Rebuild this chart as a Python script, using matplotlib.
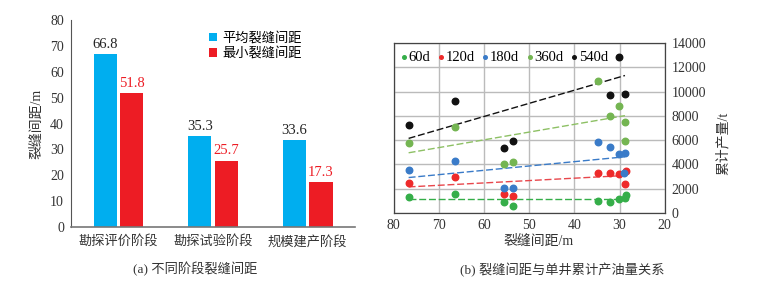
import matplotlib
matplotlib.use("Agg")
import matplotlib.pyplot as plt
import numpy as np

plt.rcParams['font.family'] = ['Liberation Serif', 'Noto Sans CJK SC', 'DejaVu Sans']
plt.rcParams['axes.unicode_minus'] = False

# ---------------- data: panel (a) ----------------
stages = ['勘探评价阶段', '勘探试验阶段', '规模建产阶段']
avg_spacing = [66.8, 35.3, 33.6]
min_spacing = [51.8, 25.7, 17.3]
series_a = ['平均裂缝间距', '最小裂缝间距']

# ---------------- data: panel (b) ----------------
x_60 = [76.7, 66.4, 55.5, 53.6, 34.8, 32.0, 30.1, 28.8, 28.6]
y_60 = [1295, 1543, 882, 606, 964, 909, 1185, 1212, 1515]
x_120 = [76.7, 66.4, 55.5, 53.6, 34.8, 32.0, 30.1, 28.6, 28.8]
y_120 = [2480, 2948, 1598, 1378, 3279, 3334, 3223, 3471, 2397]
x_180 = [76.7, 66.4, 55.5, 53.6, 34.8, 32.0, 30.1, 28.8, 28.9]
y_180 = [3526, 4298, 2094, 2094, 5840, 5427, 4849, 4959, 3334]
x_360 = [76.7, 66.4, 55.5, 53.6, 34.8, 32.0, 30.1, 28.8, 28.8]
y_360 = [5730, 7108, 4022, 4215, 10882, 8017, 8789, 7494, 5896]
x_540 = [76.7, 66.4, 55.5, 53.6, 32.0, 30.1, 28.8]
y_540 = [7246, 9230, 5372, 5896, 9753, 12840, 9808]
series_b = ['60d', '120d', '180d', '360d', '540d']
# trend lines: start/end x and y values
trend_x = [76.7, 28.8]
trend_60 = [1185, 1185]
trend_120 = [2149, 3086]
trend_180 = [2920, 4628]
trend_360 = [4959, 8017]
trend_540 = [6144, 11323]

# ---------------- figure ----------------
fig = plt.figure(figsize=(7.72, 2.82), dpi=100)

# panel (a)
axa = fig.add_axes([0.092, 0.195, 0.368, 0.734])
blue = '#00AEEF'
red = '#ED1C24'
xc = np.arange(len(stages))
w = 0.245
off = 0.14
axa.bar(xc - off, avg_spacing, w, color=blue, label=series_a[0])
axa.bar(xc + off, min_spacing, w, color=red, label=series_a[1])
for i in range(len(stages)):
    axa.text(xc[i] - off, avg_spacing[i] + 1.2, f'{avg_spacing[i]:.1f}', ha='center', va='bottom',
             fontsize=10.5, color='#222222')
    axa.text(xc[i] + off, min_spacing[i] + 1.2, f'{min_spacing[i]:.1f}', ha='center', va='bottom',
             fontsize=10.5, color=red)
axa.set_xlim(-0.5, 2.5)
axa.set_ylim(0, 80)
axa.set_yticks(np.arange(0, 81, 10))
axa.set_xticks(xc)
axa.set_xticklabels(stages)
axa.tick_params(axis='both', length=0, labelsize=10, colors='#333333')
axa.tick_params(axis='y', pad=5)
axa.tick_params(axis='x', pad=6, labelsize=9.5)
for s in ['top', 'right']:
    axa.spines[s].set_visible(False)
axa.spines['left'].set_color('#555555')
axa.spines['bottom'].set_color('#777777')
axa.spines['bottom'].set_linewidth(1.2)
axa.set_ylabel('裂缝间距/m', fontsize=10, color='#333333', labelpad=5)
axa.legend(loc='upper right', frameon=False, fontsize=9.5, handlelength=0.6, handleheight=0.6,
           handletextpad=0.4, labelspacing=0.2, borderaxespad=0.0, bbox_to_anchor=(0.83, 0.97))
fig.text(0.253, 0.046, '(a) 不同阶段裂缝间距', ha='center', va='center', fontsize=9.5, color='#333333')

# panel (b)
axb = fig.add_axes([0.510, 0.2447, 0.351, 0.6028])
c60 = '#35AE49'
c120 = '#EE2A2A'
c180 = '#3A7BC8'
c360 = '#74B552'
c540 = '#111111'
ms = 22
axb.grid(True, color='#BBBBBB', linewidth=1.0)
axb.set_axisbelow(True)
axb.plot(trend_x, trend_60, ls='--', color=c60, lw=1.0, dashes=(5, 2))
axb.plot(trend_x, trend_120, ls='--', color='#E8474C', lw=1.0, dashes=(5, 2))
axb.plot(trend_x, trend_180, ls='--', color=c180, lw=1.0, dashes=(5, 2))
axb.plot(trend_x, trend_360, ls='--', color='#8DC064', lw=1.0, dashes=(5, 2))
axb.plot(trend_x, trend_540, ls='--', color=c540, lw=1.0, dashes=(5, 2))
axb.scatter(x_60, y_60, s=ms, color=c60, label=series_b[0], zorder=3)
axb.scatter(x_120, y_120, s=ms, color=c120, label=series_b[1], zorder=3)
axb.scatter(x_180, y_180, s=ms, color=c180, label=series_b[2], zorder=3)
axb.scatter(x_360, y_360, s=ms, color=c360, label=series_b[3], zorder=3)
axb.scatter(x_540, y_540, s=ms, color=c540, label=series_b[4], zorder=3)
axb.set_xlim(80, 20)
axb.set_ylim(0, 14000)
axb.set_xticks(np.arange(80, 19, -10))
axb.set_yticks(np.arange(0, 14001, 2000))
axb.yaxis.tick_right()
axb.yaxis.set_label_position('right')
axb.tick_params(axis='both', length=0, labelsize=10, colors='#333333')
axb.tick_params(axis='x', pad=4)
axb.tick_params(axis='y', pad=5)
for s in axb.spines.values():
    s.set_color('#444444')
    s.set_linewidth(0.9)
axb.legend(loc='upper left', ncol=5, frameon=False, fontsize=10.5, markerscale=0.55,
           handlelength=0.4, handletextpad=0.1, columnspacing=0.55, borderaxespad=0.1,
           bbox_to_anchor=(0.0, 1.0))
fig.text(0.697, 0.145, '裂缝间距/m', ha='center', va='center', fontsize=10, color='#333333')
fig.text(0.937, 0.49, '累计产量/t', ha='center', va='center', rotation=90, fontsize=10, color='#333333')
fig.text(0.728, 0.043, '(b) 裂缝间距与单井累计产油量关系', ha='center', va='center', fontsize=9.5, color='#333333')

fig.savefig('out.png', dpi=100)
